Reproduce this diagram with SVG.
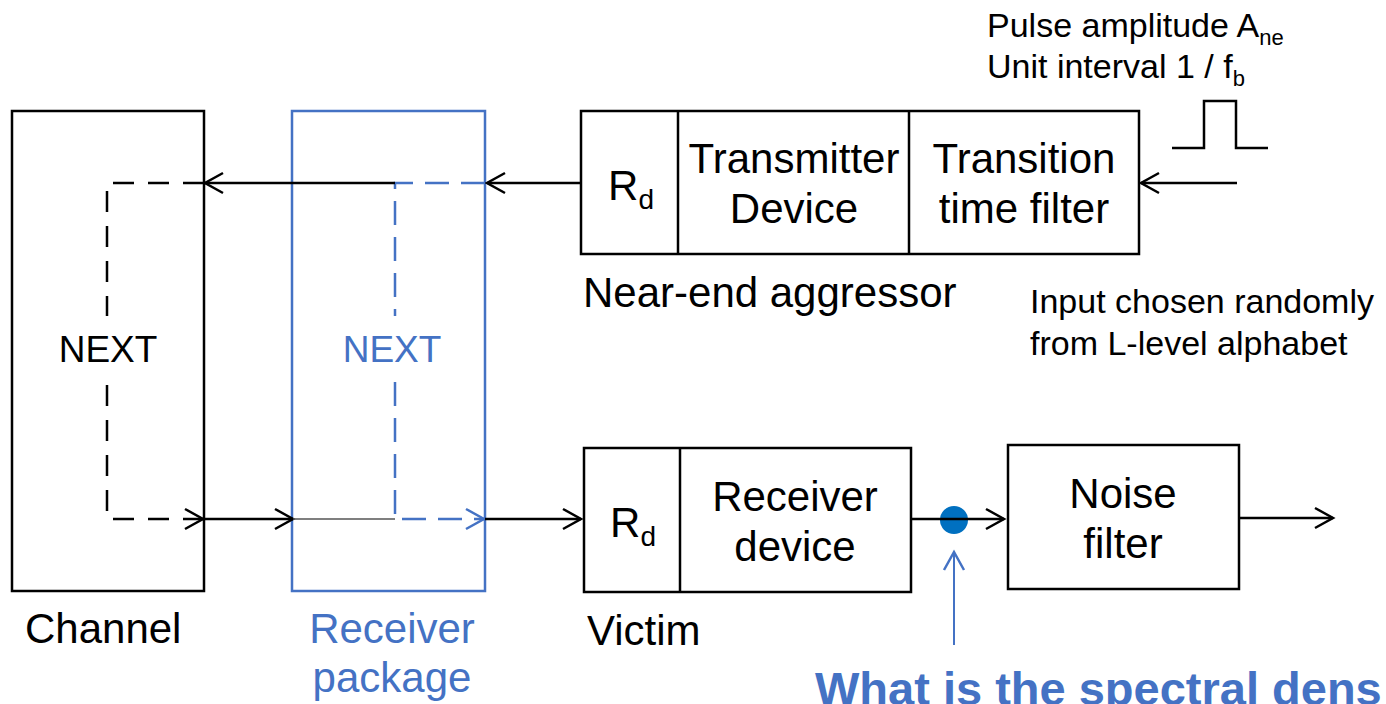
<svg xmlns="http://www.w3.org/2000/svg" width="1386" height="704" viewBox="0 0 1386 704">
  <style>
    text { font-family: "Liberation Sans", Arial, sans-serif; fill: #000; }
    .main { font-size: 42px; }
    .small { font-size: 34px; }
    .next { font-size: 37px; }
    .blue { fill: #4472C4; }
    .box { fill: none; stroke: #000; stroke-width: 2.5; }
    .bbox { fill: none; stroke: #4472C4; stroke-width: 2.5; }
    .wire { fill: none; stroke: #000; stroke-width: 2.5; }
    .dash { fill: none; stroke: #000; stroke-width: 2.5; stroke-dasharray: 21 14; }
    .bdash { fill: none; stroke: #4472C4; stroke-width: 2.5; stroke-dasharray: 24 12; }
    .question { font-size: 47px; font-weight: bold; fill: #4472C4; }
  </style>
  <defs>
    <marker id="arr" markerUnits="userSpaceOnUse" markerWidth="24" markerHeight="26" refX="0" refY="0" viewBox="-20 -13 24 26" orient="auto" overflow="visible">
      <path d="M -18 -10 L 0 0 L -18 10" fill="none" stroke="#000" stroke-width="2.5"/>
    </marker>
    <marker id="arrBlue" markerUnits="userSpaceOnUse" markerWidth="24" markerHeight="26" refX="0" refY="0" viewBox="-20 -13 24 26" orient="auto" overflow="visible">
      <path d="M -18 -10 L 0 0 L -18 10" fill="none" stroke="#4472C4" stroke-width="2.5"/>
    </marker>
  </defs>

  <!-- Channel -->
  <g id="channel">
    <rect class="box" x="12" y="111" width="192" height="480"/>
    <text class="next" x="108" y="362" text-anchor="middle">NEXT</text>
    <text class="main" x="25" y="643">Channel</text>
  </g>

  <!-- Receiver package -->
  <g id="receiver-package">
    <rect class="bbox" x="292" y="111" width="193" height="480"/>
    <text class="next blue" x="392" y="362" text-anchor="middle">NEXT</text>
    <text class="main blue" x="392" y="643" text-anchor="middle">Receiver</text>
    <text class="main blue" x="392" y="692" text-anchor="middle">package</text>
  </g>

  <!-- Near-end aggressor -->
  <g id="aggressor">
    <rect class="box" x="581" y="111" width="558" height="143"/>
    <line class="box" x1="678" y1="111" x2="678" y2="254"/>
    <line class="box" x1="909" y1="111" x2="909" y2="254"/>
    <text class="main" x="631" y="200" text-anchor="middle">R<tspan dy="9" font-size="28">d</tspan></text>
    <text class="main" x="794" y="173" text-anchor="middle">Transmitter</text>
    <text class="main" x="794" y="223" text-anchor="middle">Device</text>
    <text class="main" x="1024" y="173" text-anchor="middle">Transition</text>
    <text class="main" x="1024" y="223" text-anchor="middle">time filter</text>
    <text class="main" x="583" y="307">Near-end aggressor</text>
  </g>

  <!-- Input pulse source -->
  <g id="pulse-input">
    <text class="small" x="987" y="37">Pulse amplitude A<tspan dy="8" font-size="22">ne</tspan></text>
    <text class="small" x="987" y="78">Unit interval 1 / f<tspan dy="8" font-size="22">b</tspan></text>
    <path class="wire" d="M 1172 148 H 1204 V 101 H 1236 V 148 H 1268"/>
    <text class="small" x="1030" y="313">Input chosen randomly</text>
    <text class="small" x="1030" y="355">from L-level alphabet</text>
  </g>

  <!-- Victim -->
  <g id="victim">
    <rect class="box" x="584" y="448" width="327" height="144"/>
    <line class="box" x1="680" y1="448" x2="680" y2="592"/>
    <text class="main" x="633" y="537" text-anchor="middle">R<tspan dy="9" font-size="28">d</tspan></text>
    <text class="main" x="795" y="511" text-anchor="middle">Receiver</text>
    <text class="main" x="795" y="561" text-anchor="middle">device</text>
    <text class="main" x="587" y="645">Victim</text>
  </g>

  <!-- Noise filter -->
  <g id="noise-filter">
    <rect class="box" x="1008" y="445" width="231" height="144"/>
    <text class="main" x="1123" y="508" text-anchor="middle">Noise</text>
    <text class="main" x="1123" y="558" text-anchor="middle">filter</text>
  </g>

  <!-- Probe point -->
  <g id="probe">
    <circle cx="954" cy="520" r="14" fill="#0070C0"/>
    <line x1="954" y1="645" x2="954" y2="552" stroke="#4472C4" stroke-width="2" marker-end="url(#arrBlue)"/>
    <text class="question" x="815" y="705">What is the spectral dens</text>
  </g>

  <!-- Connectors -->
  <g id="connectors">
    <!-- aggressor path -->
    <line class="wire" x1="1237" y1="183" x2="1141" y2="183" marker-end="url(#arr)"/>
    <line class="wire" x1="581" y1="183" x2="487" y2="183" marker-end="url(#arr)"/>
    <path class="bdash" d="M 485 183 H 395 V 316"/>
    <line class="wire" x1="395" y1="183" x2="205" y2="183" marker-end="url(#arr)"/>
    <path class="dash" d="M 204 183 H 107 V 316"/>
    <!-- crosstalk return path -->
    <path class="dash" d="M 107 382 V 519 H 203" style="stroke-dashoffset: 32" marker-end="url(#arr)"/>
    <line class="wire" x1="204" y1="519" x2="293" y2="519" marker-end="url(#arr)"/>
    <line x1="293" y1="519" x2="395" y2="519" stroke="#555" stroke-width="1.5"/>
    <path class="bdash" d="M 395 382 V 519 H 484" marker-end="url(#arrBlue)"/>
    <line class="wire" x1="485" y1="519" x2="581" y2="519" marker-end="url(#arr)"/>
    <!-- victim to noise filter -->
    <line class="wire" x1="911" y1="519" x2="1004" y2="519" marker-end="url(#arr)"/>
    <line class="wire" x1="1239" y1="518" x2="1333" y2="518" marker-end="url(#arr)"/>
  </g>
</svg>
